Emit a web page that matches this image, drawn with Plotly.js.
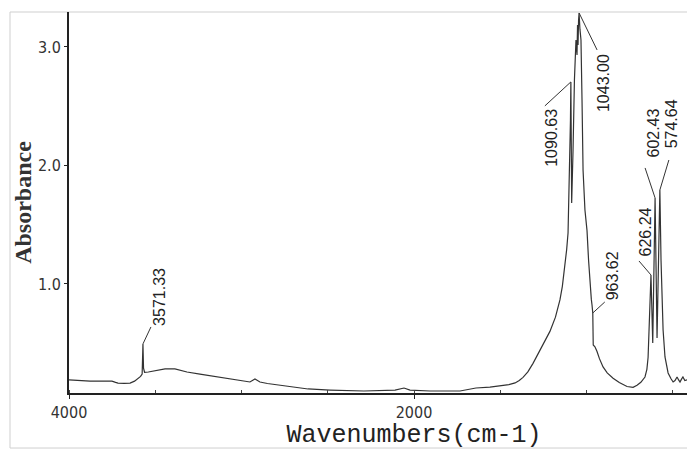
<!DOCTYPE html>
<html>
<head>
<meta charset="utf-8">
<script src="https://cdn.plot.ly/plotly-3.0.1.min.js"></script>
<style>
html, body { margin: 0; padding: 0; overflow: hidden; background: #fff; }
#chart { width: 759px; height: 450px; }
</style>
</head>
<body>
<div id="chart"></div>
<script>
// Spectrum (wavenumber cm-1, absorbance)
const wavenumber = [4000, 3940, 3878, 3800, 3751, 3730, 3716, 3680, 3646, 3620, 3600, 3585, 3576, 3571.33, 3568, 3562,
  3540, 3500, 3443, 3386, 3316, 3241, 3125, 3009, 2951, 2922, 2893, 2850, 2736, 2614, 2487, 2290, 2110, 2058,
  2023, 1907, 1733, 1641, 1560, 1501, 1450, 1414, 1390, 1368, 1340, 1310, 1281, 1250, 1212, 1180, 1154, 1140, 1125,
  1115, 1107, 1101, 1093, 1090.63, 1086, 1078,
  1070, 1061, 1055, 1052, 1049, 1046, 1043.00, 1038, 1032, 1026, 1020, 1009, 997, 988, 980, 972, 968, 963.62, 961, 951,
  939, 925, 904, 880, 846, 810, 765, 730, 707, 685, 661, 650, 643, 635, 626.24, 616, 602.43, 591, 574.64, 568, 556, 545, 527, 510, 498, 487, 475, 466, 458,
  450, 441, 430, 417, 400];
const absorbance = [0.190, 0.183, 0.181, 0.181, 0.180, 0.170, 0.164, 0.162, 0.164, 0.180, 0.200, 0.220, 0.240, 0.494, 0.290, 0.255,
  0.257, 0.270, 0.283, 0.283, 0.257, 0.240, 0.215, 0.190, 0.173, 0.198, 0.173, 0.160, 0.139, 0.114, 0.105, 0.097, 0.105, 0.122,
  0.105, 0.097, 0.097, 0.122, 0.130, 0.139, 0.150, 0.165, 0.185, 0.212, 0.258, 0.330, 0.410, 0.500, 0.600, 0.720, 0.865, 0.980, 1.143,
  1.290, 1.430, 1.800, 2.384, 2.705, 1.683, 2.131,
  2.721, 3.059, 2.932, 3.186, 3.017, 3.228, 3.287, 3.150, 3.059, 2.553, 1.962, 1.624, 1.450, 1.200, 0.990, 0.870, 0.823, 0.755, 0.485, 0.470,
  0.430, 0.370, 0.300, 0.250, 0.205, 0.168, 0.135, 0.128, 0.145, 0.170, 0.215, 0.280, 0.380, 0.696, 1.076, 0.502, 1.726, 0.544, 1.793, 1.202, 0.612, 0.384, 0.249, 0.200, 0.173, 0.185, 0.215, 0.190, 0.173,
  0.195, 0.215, 0.185, 0.190, 0.185];

// Labelled peaks
const peakWavenumbers = [3571.33, 1090.63, 1043.00, 963.62, 626.24, 602.43, 574.64];
const peakLabels = ["3571.33", "1090.63", "1043.00", "963.62", "626.24", "602.43", "574.64"];

// Axis text
const xTitle = "Wavenumbers(cm-1)";
const yTitle = "Absorbance";

// Label placement (style only): text shift (px), anchor, leader end (px, y up)
const labelStyle = [
  {xs: 17, ys: 16, ya: 'bottom', lx: 8, ly: 17},
  {xs: -19, ys: -25, ya: 'top', lx: -26, ly: -24},
  {xs: 25, ys: -39, ya: 'top', lx: 18, ly: -37},
  {xs: 20, ys: 11, ya: 'bottom', lx: 12, ly: 11},
  {xs: -6, ys: 17, ya: 'bottom', lx: -12, ly: 14},
  {xs: -2, ys: 38, ya: 'bottom', lx: -10, ly: 30},
  {xs: 12, ys: 40, ya: 'bottom', lx: 9, ly: 30}
];

const annotations = [];
const shapes = [];
peakWavenumbers.forEach((w, i) => {
  const a = absorbance[wavenumber.indexOf(w)];
  const s = labelStyle[i];
  annotations.push({
    x: w, y: a, xref: 'x', yref: 'y', text: peakLabels[i], showarrow: false,
    textangle: -90, xanchor: 'center', yanchor: s.ya, xshift: s.xs, yshift: s.ys,
    font: {family: 'Liberation Sans, Arial, sans-serif', size: 16, color: '#222'}
  });
  shapes.push({
    type: 'line', xref: 'x', yref: 'y', xsizemode: 'pixel', ysizemode: 'pixel',
    xanchor: w, yanchor: a, x0: 0, y0: 0, x1: s.lx, y1: s.ly,
    line: {color: '#333', width: 1}
  });
});

// light grey picture frame
const fx = -0.0855, fy = -0.1444;
[[fx, 1, 1.2, 1], [fx, 1, fx, fy], [fx, fy, 1.2, fy]].forEach(c => {
  shapes.push({type: 'line', xref: 'paper', yref: 'paper', x0: c[0], y0: c[1], x1: c[2], y1: c[3],
    line: {color: '#cfcfcf', width: 1}, layer: 'below'});
});

const trace = {
  x: wavenumber, y: absorbance, type: 'scatter', mode: 'lines',
  line: {color: '#333', width: 1.2}, hoverinfo: 'skip'
};

const tickFont = {family: 'Liberation Sans Narrow, DejaVu Sans Condensed, Arial Narrow, sans-serif', size: 16, color: '#333'};

const layout = {
  width: 759, height: 450,
  margin: {l: 69, r: 0, t: 12, b: 57},
  paper_bgcolor: '#fff', plot_bgcolor: '#fff',
  showlegend: false,
  xaxis: {
    range: [4000, 0], dtick: 2000, tick0: 0,
    showgrid: false, zeroline: false,
    showline: true, linecolor: '#222', linewidth: 2,
    ticks: 'outside', ticklen: 4, tickcolor: '#222', tickwidth: 1,
    minor: {dtick: 500, ticks: 'inside', ticklen: 3, tickcolor: '#444', showgrid: false},
    tickfont: tickFont,
    title: {text: xTitle, standoff: 7,
      font: {family: 'Liberation Mono, Courier New, monospace', size: 25, color: '#222'}}
  },
  yaxis: {
    range: [0.08, 3.295], dtick: 1, tick0: 0, tickformat: '.1f',
    showgrid: false, zeroline: false,
    showline: true, linecolor: '#222', linewidth: 2,
    ticks: 'outside', ticklen: 3, tickcolor: '#222', tickwidth: 1,
    tickfont: tickFont,
    title: {text: '<b>' + yTitle + '</b>', standoff: 0,
      font: {family: 'Liberation Serif, Times New Roman, serif', size: 24, color: '#333'}}
  },
  annotations: annotations,
  shapes: shapes
};

Plotly.newPlot('chart', [trace], layout, {displayModeBar: false, responsive: false, staticPlot: true});
</script>
</body>
</html>
